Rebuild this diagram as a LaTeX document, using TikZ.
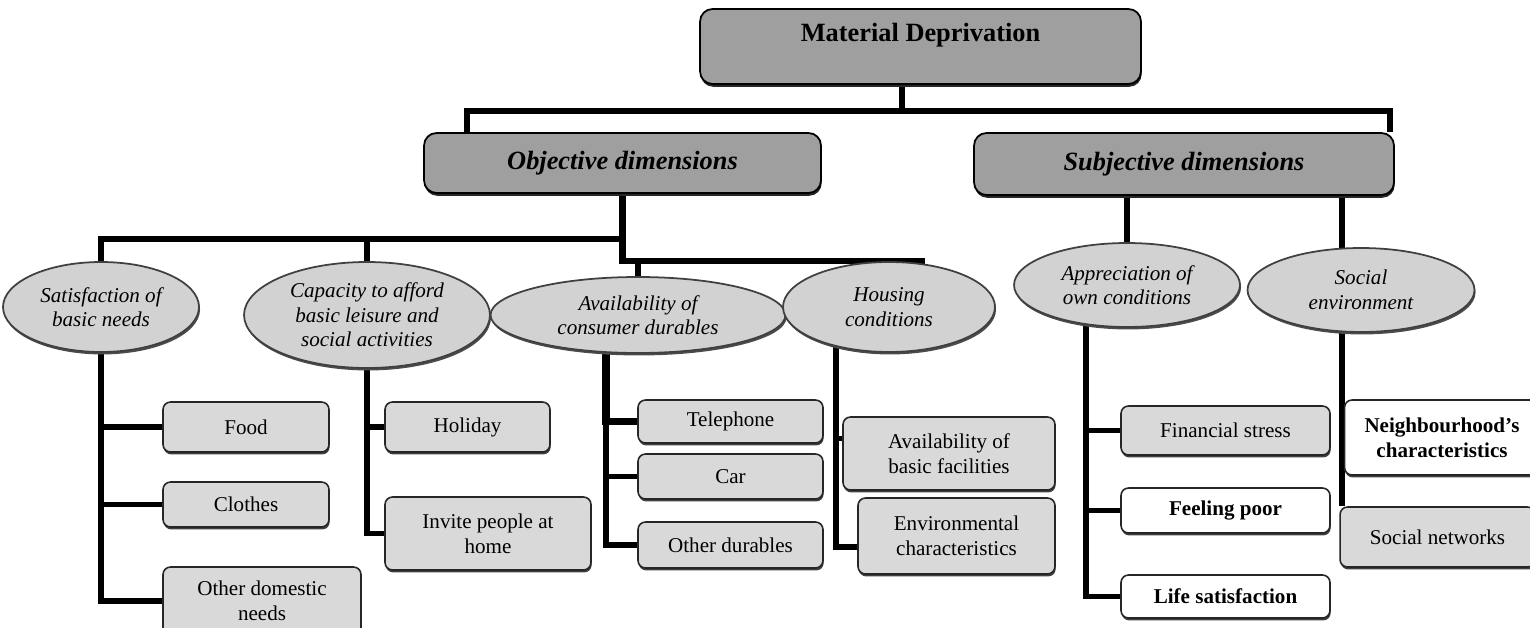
\documentclass[tikz,border=0pt]{standalone}
\usepackage{fontspec}
\setmainfont{Liberation Serif}
\usetikzlibrary{shapes,shadows}
\usetikzlibrary{positioning}
\usetikzlibrary{backgrounds}
\tikzset{headbox/.style={ draw=black, line width=1pt, fill=gray!75, rounded corners=0.25cm,
            drop shadow={shadow xshift=0.4pt, shadow yshift=-1.6pt, fill=black!85, opacity=1} },
         bubble/.style={ ellipse, draw=black!75, line width=1pt, fill=gray!35, inner sep=0pt,
            align=center, font=\fontsize{12}{14}\selectfont\itshape,
            drop shadow={shadow xshift=0.6pt, shadow yshift=-1.4pt, fill=black!70, opacity=1} },
         leafbox/.style={ rectangle, draw=black!85, line width=0.9pt, fill=#1, rounded corners=0.15cm,
            align=center, inner sep=1pt, font=\fontsize{12}{14}\selectfont,
            drop shadow={shadow xshift=0.4pt, shadow yshift=-1.4pt, fill=black!75, opacity=1} },
         leafbox/.default=gray!30,
         plainbox/.style={ leafbox=white, font=\fontsize{12}{14}\selectfont\bfseries },
         link/.style={ line width=3pt },
         trunk/.style={ line width=3.6pt }}

\begin{document}
\begin{tikzpicture}[x=0.02cm, y=-0.02cm]
            \useasboundingbox (0,0) rectangle (1530,628);
            % top of the tree
            \node [headbox, minimum width=8.82cm, text height=0.55cm, text depth=0.75cm, inner ysep=0.1cm,
                font=\fontsize{15}{18}\selectfont\bfseries] (md) at (920.5,46.5) {Material Deprivation};
            \node [headbox, minimum width=7.94cm, minimum height=1.2cm,
                font=\fontsize{15}{18}\selectfont\bfseries\itshape] (obj) at (622.5,163) {Objective dimensions};
            \node [headbox, minimum width=8.4cm, minimum height=1.24cm,
                font=\fontsize{15}{18}\selectfont\bfseries\itshape] (subj) at (1184,164) {Subjective dimensions};
            % dimensions
            \node [bubble, minimum width=3.92cm, minimum height=1.8cm] (sat) at (101,307) {Satisfaction of\\basic needs};
            \node [bubble, minimum width=4.92cm, minimum height=2.12cm] (cap) at (367,315) {Capacity to afford\\basic leisure and\\social activities};
            \node [bubble, minimum width=5.9cm, minimum height=1.52cm] (avail) at (638,315) {Availability of\\consumer durables};
            \node [bubble, minimum width=4.24cm, minimum height=1.8cm] (hous) at (889,307) {Housing\\conditions};
            \node [bubble, minimum width=4.52cm, minimum height=1.68cm] (appr) at (1127,285) {Appreciation of\\own conditions};
            \node [bubble, minimum width=4.54cm, minimum height=1.68cm] (soc) at (1361,290) {Social\\environment};
            % items
            \node [leafbox, minimum width=3.32cm, minimum height=1cm] (food) at (246,427) {Food};
            \node [leafbox, minimum width=3.32cm, minimum height=0.9cm] (clothes) at (246,504.5) {Clothes};
            \node [leafbox, minimum width=3.96cm, minimum height=1.36cm] (domestic) at (262,601) {Other domestic\\needs};
            \node [leafbox, minimum width=3.3cm, minimum height=1cm] (holiday) at (467.5,427) {Holiday};
            \node [leafbox, minimum width=4.12cm, minimum height=1.46cm] (invite) at (488,533.5) {Invite people at\\home};
            \node [leafbox, minimum width=3.7cm, minimum height=0.86cm] (phone) at (730.5,421.5) {Telephone};
            \node [leafbox, minimum width=3.7cm, minimum height=0.9cm] (car) at (730.5,476.5) {Car};
            \node [leafbox, minimum width=3.7cm, minimum height=0.92cm] (odur) at (730.5,545) {Other durables};
            \node [leafbox, minimum width=4.24cm, minimum height=1.46cm] (facil) at (949,453.5) {Availability of\\basic facilities};
            \node [leafbox, minimum width=3.94cm, minimum height=1.52cm] (envir) at (956.5,536) {Environmental\\characteristics};
            \node [leafbox, minimum width=4.18cm, minimum height=0.98cm] (stress) at (1225.5,430.5) {Financial stress};
            \node [plainbox, minimum width=4.18cm, minimum height=0.9cm] (poor) at (1225.5,510.5) {Feeling poor};
            \node [plainbox, minimum width=4.18cm, minimum height=0.86cm] (lifes) at (1225.5,596.5) {Life satisfaction};
            \node [plainbox, minimum width=3.9cm, minimum height=1.5cm] (neigh) at (1442,437.5) {Neighbourhood's\\characteristics};
            \node [leafbox, minimum width=3.9cm, minimum height=1.2cm] (socnet) at (1437.5,537) {Social networks};
            % connectors
            \begin{scope}[on background layer]
                \coordinate (mdbar) at (902,111);
                \coordinate (objbar) at (622,239);
                \coordinate (availstem) at ([xshift=-0.64cm]avail.center);
                \coordinate (housstem) at ([xshift=-1.06cm]hous.center);
                \coordinate (apprstem) at ([xshift=-0.82cm]appr.center);
                \coordinate (socstem) at ([xshift=-0.38cm]soc.center);
                \draw [trunk] (mdbar |- md.south) -- (mdbar);
                \draw [trunk] ([xshift=0.88cm]obj.north west) |- (mdbar) -| ([xshift=-0.1cm]subj.north east);
                \draw [trunk] (obj.south) |- ([xshift=0.72cm]hous.north);
                \draw [trunk] (sat.north) |- (objbar);
                \draw [link] (cap.north) -- (cap.north |- objbar);
                \draw [link] (avail.north) -- (avail.north |- hous.north);
                \draw [trunk] (subj.south -| appr.north) -- (appr.north);
                \draw [trunk] (socstem |- subj.south) -- (socstem) -- (socstem |- socnet.north west);
                \draw [link] (sat.center) |- (food.west);
                \draw [link] (sat.center) |- (clothes.west);
                \draw [link] (sat.center) |- (domestic.west);
                \draw [link] (cap.center) |- (holiday.west);
                \draw [link] (cap.center) |- (invite.west);
                \draw [link, line width=4.4pt] (availstem) |- (phone.west);
                \draw [link] (availstem) |- (car.west);
                \draw [link] (availstem) |- (odur.west);
                \draw [link] (housstem) |- ([yshift=0.3cm]facil.west);
                \draw [link] (housstem) |- ([yshift=-0.22cm]envir.west);
                \draw [link] (apprstem) |- (stress.west);
                \draw [link] (apprstem) |- (poor.west);
                \draw [link] (apprstem) |- (lifes.west);
            \end{scope}
        \end{tikzpicture}
\end{document}
